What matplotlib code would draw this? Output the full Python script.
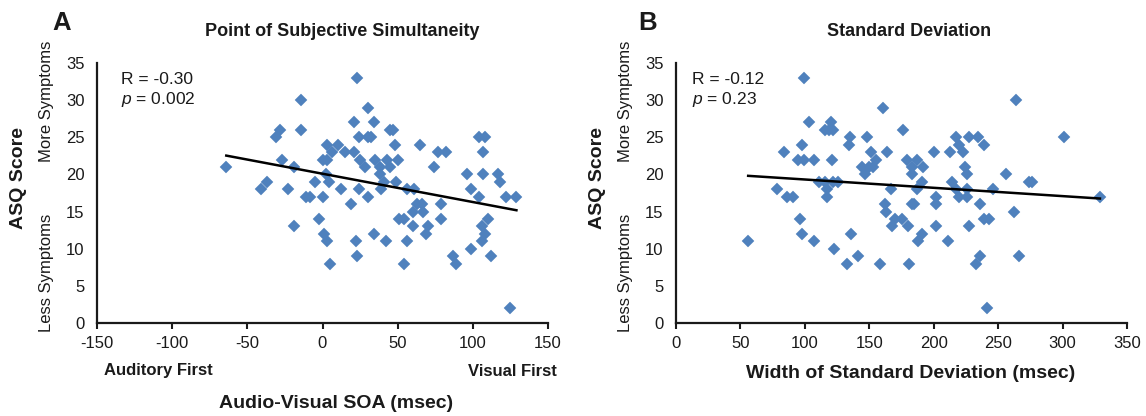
import numpy as np
import matplotlib
matplotlib.use('Agg')
import matplotlib.pyplot as plt

plt.rcParams['font.family'] = ['Liberation Sans', 'DejaVu Sans']
plt.rcParams['mathtext.fontset'] = 'custom'
plt.rcParams['mathtext.it'] = 'Liberation Sans:italic'
plt.rcParams['mathtext.rm'] = 'Liberation Sans'
plt.rcParams['axes.unicode_minus'] = False

# panel A: point of subjective simultaneity (msec) vs ASQ score
pss_x = [23, -14, 30, 21, 34, -28, -31, -14, 24, 30, 32, 45, 47, 48, 65, 104, 108, 107, 77, 82,
         3, 10, 6, 0, 3, 15, 21, 25, 28, 35, 38, 38, 41, 39, 43, 45, 50, 49, 56, 61,
         74, 63, 66, 60, 67, 79, 79, 51, 54, 60, 70, 69, 96, 99, 104, 107, 117, 118, 122, 129,
         110, 106, 108, 106, 99, 112, 87, 89, 125, 54, 56, 42, 34, 22, 23, 5, 1, 3, -2, -19,
         -23, -19, -27, -5, -11, -8, 0, 2, 4, 12, 19, 24, 30, -64, -37, -41]
pss_y = [33, 30, 29, 27, 27, 26, 25, 26, 25, 25, 25, 26, 26, 24, 24, 25, 25, 23, 23, 23,
         24, 24, 23, 22, 22, 23, 23, 22, 21, 22, 21, 20, 19, 18, 22, 21, 22, 19, 18, 18,
         21, 16, 16, 15, 15, 16, 14, 14, 14, 13, 13, 12, 20, 18, 17, 20, 20, 19, 17, 17,
         14, 13, 12, 11, 10, 9, 9, 8, 2, 8, 11, 11, 12, 11, 9, 8, 12, 11, 14, 13,
         18, 21, 22, 19, 17, 17, 17, 20, 19, 18, 16, 18, 17, 21, 19, 18]

# panel B: width of standard deviation (msec) vs ASQ score
sd_x = [99, 103, 116, 120, 122, 119, 135, 134, 148, 84, 98, 95, 99, 107, 121, 151, 155, 144, 147, 150,
        153, 111, 116, 122, 126, 117, 117, 78, 86, 91, 96, 98, 107, 56, 136, 123, 141, 133, 158,
        264, 161, 176, 301, 217, 227, 234, 239, 220, 223, 164, 200, 213, 179, 187, 183, 192, 183, 191,
        224, 226, 256, 274, 276, 214, 217, 220, 226, 226, 246, 167, 187, 202, 202, 183, 185, 162, 163,
        236, 329, 262, 170, 175, 168, 180, 202, 227, 239, 243, 191, 188, 211, 266, 236, 233, 181, 241]
sd_y = [33, 27, 26, 27, 26, 26, 25, 24, 25, 23, 24, 22, 22, 22, 22, 23, 22, 21, 20, 21,
        21, 19, 19, 19, 19, 18, 17, 18, 17, 17, 14, 12, 11, 11, 12, 10, 9, 8, 8,
        30, 29, 26, 25, 25, 25, 25, 24, 24, 23, 23, 23, 23, 22, 22, 21, 21, 20, 19,
        21, 20, 20, 19, 19, 19, 18, 17, 17, 18, 18, 18, 18, 17, 16, 16, 16, 16, 15,
        16, 17, 15, 14, 14, 13, 13, 13, 13, 14, 14, 12, 11, 11, 9, 9, 8, 8, 2]

stats_a = ['R = -0.30', '$p$ = 0.002']
stats_b = ['R = -0.12', '$p$ = 0.23']

blue = '#4F81BD'
ink = '#1a1a1a'

W, H = 1146, 416
fig = plt.figure(figsize=(W / 100, H / 100), dpi=100)


def px(x, y):
    return x / W, 1 - y / H


axA = fig.add_axes([97 / W, 1 - 323 / H, 451 / W, 260 / H])
axB = fig.add_axes([676 / W, 1 - 323 / H, 451 / W, 260 / H])


def style(ax, xs, ys, xlim, stats, tx):
    ax.plot(xs, ys, 'D', color=blue, ms=6.4, mec=blue, mew=0.3, zorder=2)
    k, b = np.polyfit(xs, ys, 1)
    lx = np.array([min(xs), max(xs)])
    ax.plot(lx, k * lx + b, color='black', lw=1.8, zorder=3)
    ax.set_xlim(*xlim)
    ax.set_ylim(0, 35)
    ax.set_xticks(np.arange(xlim[0], xlim[1] + 1, 50))
    ax.set_yticks(np.arange(0, 36, 5))
    for s in ['top', 'right']:
        ax.spines[s].set_visible(False)
    for s in ['left', 'bottom']:
        ax.spines[s].set_linewidth(1.6)
        ax.spines[s].set_color(ink)
    ax.tick_params(axis='x', direction='out', length=4, width=1.5, pad=5,
                   labelsize=12, colors=ink)
    ax.tick_params(axis='y', length=0, pad=9, labelsize=12, colors=ink)
    ax.text(tx, 0.938, stats[0], transform=ax.transAxes, fontsize=12.5,
            color=ink, va='center')
    ax.text(tx, 0.858, stats[1], transform=ax.transAxes, fontsize=12.5,
            color=ink, va='center')
    ax.text(-0.175, 0.558, 'ASQ Score', transform=ax.transAxes, rotation=90,
            fontsize=14, fontweight='bold', color=ink, ha='center', va='center')
    ax.text(-0.111, 0.854, 'More Symptoms', transform=ax.transAxes, rotation=90,
            fontsize=12, color=ink, ha='center', va='center', clip_on=False)
    ax.text(-0.111, 0.192, 'Less Symptoms', transform=ax.transAxes, rotation=90,
            fontsize=12, color=ink, ha='center', va='center')


style(axA, pss_x, pss_y, (-150, 150), stats_a, 0.053)
style(axB, sd_x, sd_y, (0, 350), stats_b, 0.035)

fig.text(*px(62, 23), 'A', fontsize=18.5, fontweight='bold', color=ink, ha='center', va='center')
fig.text(*px(648, 23), 'B', fontsize=18.5, fontweight='bold', color=ink, ha='center', va='center')
fig.text(*px(342, 31), 'Point of Subjective Simultaneity', fontsize=13, fontweight='bold',
         color=ink, ha='center', va='center')
fig.text(*px(909, 31), 'Standard Deviation', fontsize=13, fontweight='bold',
         color=ink, ha='center', va='center')
fig.text(*px(104, 371), 'Auditory First', fontsize=12, fontweight='bold',
         color=ink, ha='left', va='center')
fig.text(*px(557, 371), 'Visual First', fontsize=12, fontweight='bold',
         color=ink, ha='right', va='center')
fig.text(*px(336, 404), 'Audio-Visual SOA (msec)', fontsize=14, fontweight='bold',
         color=ink, ha='center', va='center')
fig.text(*px(911, 373), 'Width of Standard Deviation (msec)', fontsize=14, fontweight='bold',
         color=ink, ha='center', va='center')

fig.savefig('out.png', dpi=100)
